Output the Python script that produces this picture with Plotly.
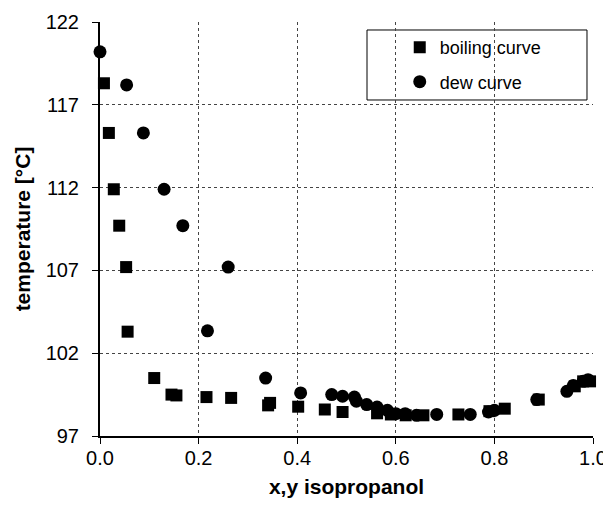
import plotly.graph_objects as go

# boiling curve (liquid composition x)
boil_x = [0.008, 0.018, 0.028, 0.039, 0.053, 0.056, 0.110, 0.145, 0.155, 0.216,
          0.266, 0.341, 0.345, 0.402, 0.456, 0.492, 0.562, 0.590, 0.620, 0.656,
          0.727, 0.790, 0.821, 0.890, 0.963, 0.980, 0.994]
boil_y = [118.3, 115.3, 111.9, 109.7, 107.2, 103.3, 100.5, 99.5, 99.45, 99.35,
          99.3, 98.85, 99.0, 98.77, 98.6, 98.45, 98.37, 98.3, 98.25, 98.25,
          98.3, 98.5, 98.65, 99.2, 100.0, 100.3, 100.3]

# dew curve (vapour composition y)
dew_x = [0.0, 0.054, 0.088, 0.130, 0.168, 0.260, 0.218, 0.336, 0.407, 0.470,
         0.492, 0.516, 0.520, 0.541, 0.562, 0.583, 0.600, 0.619, 0.642, 0.683,
         0.751, 0.788, 0.800, 0.886, 0.947, 0.960, 0.980, 0.990]
dew_y = [120.2, 118.2, 115.3, 111.9, 109.7, 107.2, 103.35, 100.5, 99.6, 99.5,
         99.4, 99.35, 99.1, 98.9, 98.75, 98.55, 98.35, 98.35, 98.25, 98.3,
         98.3, 98.45, 98.55, 99.2, 99.7, 100.05, 100.3, 100.4]

x_ticks = [0.0, 0.2, 0.4, 0.6, 0.8, 1.0]
y_ticks = [97, 102, 107, 112, 117, 122]

FONT = "Liberation Sans, Arial, sans-serif"

fig = go.Figure()
fig.add_trace(go.Scatter(x=boil_x, y=boil_y, mode="markers", name="boiling curve",
                         legendgroup="b", cliponaxis=False,
                         marker=dict(symbol="square", size=12, color="black")))
fig.add_trace(go.Scatter(x=dew_x, y=dew_y, mode="markers", name="dew curve",
                         legendgroup="d", cliponaxis=False,
                         marker=dict(symbol="circle", size=13, color="black")))

axis_common = dict(showline=True, linecolor="black", linewidth=2, mirror=False,
                   ticks="outside", ticklen=6, tickcolor="black", tickwidth=1,
                   showgrid=True, gridcolor="#444", gridwidth=1, griddash="dot",
                   zeroline=False, automargin=False,
                   tickfont=dict(family=FONT, size=20, color="black"))

fig.update_xaxes(range=[0, 1.0], tickvals=x_ticks, tickformat=".1f",
                 ticklabelstandoff=-3,
                 title=dict(text="<b>x,y isopropanol</b>", standoff=11,
                            font=dict(family=FONT, size=21, color="black")),
                 **axis_common)
fig.update_yaxes(range=[97, 122], tickvals=y_ticks,
                 ticklabelstandoff=9,
                 title=dict(text="<b>temperature [°C]</b>", standoff=9,
                            font=dict(family=FONT, size=21, color="black")),
                 **axis_common)

fig.add_shape(type="rect", xref="paper", yref="paper",
              x0=0.5416, x1=0.9878, y0=0.8116, y1=0.9807,
              line=dict(color="black", width=1), fillcolor="white", layer="below")

fig.update_layout(
    width=611, height=506,
    margin=dict(l=92, r=26, t=14, b=78),
    paper_bgcolor="white", plot_bgcolor="white",
    font=dict(family=FONT, color="black"),
    legend=dict(x=0.608, y=0.983, xanchor="left", yanchor="top",
                bgcolor="rgba(0,0,0,0)", borderwidth=0, tracegroupgap=8,
                font=dict(family=FONT, size=18, color="black")),
)

fig.write_html("out.html")
